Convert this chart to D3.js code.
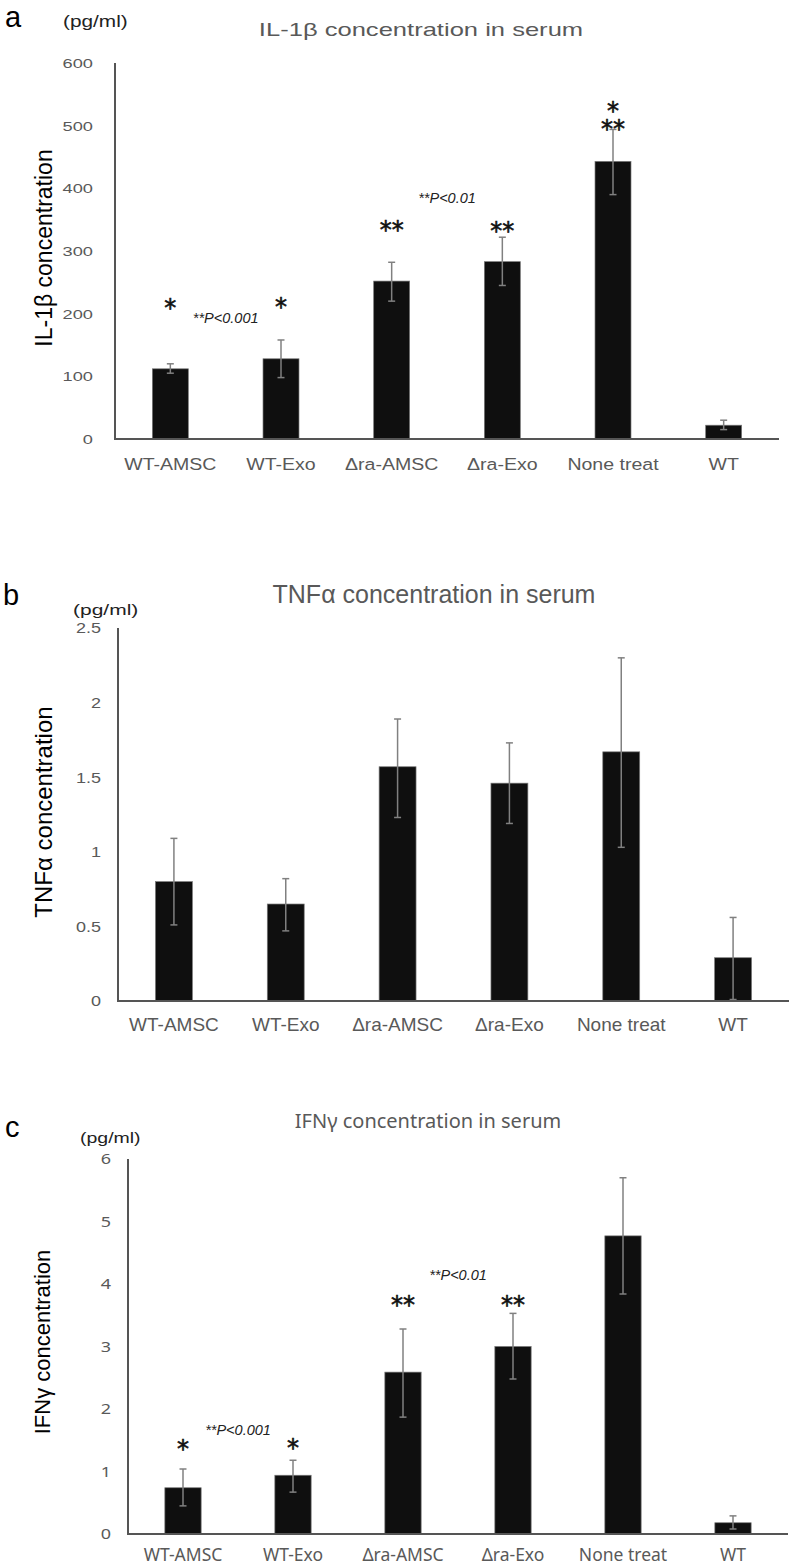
<!DOCTYPE html>
<html><head><meta charset="utf-8">
<script src="https://cdn.jsdelivr.net/npm/d3@7"></script>
<style>body{margin:0;background:#fff}svg{display:block}</style>
</head><body>
<svg id="chart" width="792" height="1565"></svg>
<script>
const categories = ["WT-AMSC","WT-Exo","\u0394ra-AMSC","\u0394ra-Exo","None treat","WT"];

const il1bMean = [112,128,252,283,443,22];
const il1bLow  = [105,98,220,245,390,15];
const il1bHigh = [120,158,282,322,494,30];
const il1bTicks = [0,100,200,300,400,500,600];
// [bar index, lines of stars (top to bottom), level of the lowest line in data units]
const il1bStars = [[0,["*"],217],[1,["*"],218],[2,["**"],342],[3,["**"],340],[4,["*","**"],503]];
const il1bP = [[0,1,"**P<0.001",185],[2,3,"**P<0.01",377]];

const tnfMean = [0.80,0.65,1.57,1.46,1.67,0.29];
const tnfLow  = [0.51,0.47,1.23,1.19,1.03,0.01];
const tnfHigh = [1.09,0.82,1.89,1.73,2.30,0.56];
const tnfTicks = [0,0.5,1,1.5,2,2.5];

const ifnMean = [0.74,0.94,2.59,3.00,4.77,0.18];
const ifnLow  = [0.45,0.67,1.87,2.48,3.84,0.08];
const ifnHigh = [1.04,1.18,3.28,3.53,5.70,0.29];
const ifnTicks = [0,1,2,3,4,5,6];
const ifnStars = [[0,["*"],1.44],[1,["*"],1.46],[2,["**"],3.74],[3,["**"],3.74]];
const ifnP = [[0,1,"**P<0.001",1.58],[2,3,"**P<0.01",4.06]];

const svg = d3.select("#chart");
const GRAY = "#595959";

function txt(g, s, x, y, o) {
  o = o || {};
  const t = g.append("text")
    .attr("transform", `translate(${x},${y})` + (o.rot ? ` rotate(${o.rot})` : "") + (o.sx ? ` scale(${o.sx},1)` : ""))
    .attr("font-family", o.family || "'Liberation Sans', Arial, sans-serif")
    .attr("font-size", o.size || 14)
    .attr("fill", o.fill || "#000")
    .attr("text-anchor", o.anchor || "start")
    .text(s);
  if (o.weight) t.attr("font-weight", o.weight);
  if (o.style) t.attr("font-style", o.style);
  return t;
}

function panel(cfg) {
  const g = svg.append("g");
  const x = d3.scaleBand().domain(categories).range([cfg.x0, cfg.x1]).paddingInner(cfg.pad).paddingOuter(cfg.pad/2);
  const y = d3.scaleLinear().domain([0, cfg.max]).range([cfg.y0, cfg.yTop]);
  const fam = cfg.family;

  // bars
  g.selectAll("rect.bar").data(cfg.mean).join("rect")
    .attr("x", (d,i) => x(categories[i]))
    .attr("width", x.bandwidth())
    .attr("y", d => y(d))
    .attr("height", d => y(0) - y(d))
    .attr("fill", "#0f0f0f")
    .attr("stroke", "#777").attr("stroke-width", 0.7);

  // error bars
  const cx = i => x(categories[i]) + x.bandwidth()/2;
  const eg = g.append("g").attr("stroke", "#808080").attr("stroke-width", 1.5);
  cfg.mean.forEach((d,i) => {
    eg.append("line").attr("x1", cx(i)).attr("x2", cx(i)).attr("y1", y(cfg.low[i])).attr("y2", y(cfg.high[i]));
    [cfg.low[i], cfg.high[i]].forEach(v => eg.append("line").attr("x1", cx(i)-3.5).attr("x2", cx(i)+3.5).attr("y1", y(v)).attr("y2", y(v)));
  });

  // axes lines
  g.append("line").attr("x1", cfg.x0).attr("x2", cfg.x0).attr("y1", y(cfg.max)).attr("y2", y(0)+1)
    .attr("stroke", "#555").attr("stroke-width", 2);
  g.append("line").attr("x1", cfg.x0).attr("x2", cfg.x1).attr("y1", y(0)).attr("y2", y(0))
    .attr("stroke", "#555").attr("stroke-width", 2);

  // y tick labels
  cfg.ticks.forEach(t => txt(g, String(t), cfg.x0 - cfg.tickGap, y(t) + cfg.tickSize*0.36,
    {size: cfg.tickSize, sx: cfg.tickSx, anchor: "end", fill: GRAY, family: fam}));

  // x labels
  categories.forEach((c,i) => txt(g, c, cx(i), cfg.xLabY, {size: cfg.xLabSize, sx: cfg.xLabSx, anchor: "middle", fill: GRAY, family: fam}));

  // title, unit, letter, y label
  txt(g, cfg.title, cfg.titleX, cfg.titleY, {size: cfg.titleSize, sx: cfg.titleSx, anchor: "middle", fill: GRAY, family: fam});
  txt(g, "(pg/ml)", cfg.unitX, cfg.unitY, {size: cfg.unitSize, sx: cfg.unitSx, fill: "#222", family: "'Liberation Sans', Arial, sans-serif"});
  txt(g, cfg.letter, cfg.letterX, cfg.letterY, {size: 29, fill: "#000"});
  txt(g, cfg.ylab, cfg.ylabX, cfg.ylabY, {size: cfg.ylabSize, rot: -90, anchor: "middle", fill: "#000"});

  // stars (multi-line stacks are one text element)
  (cfg.stars || []).forEach(s => {
    const lines = s[1];
    const lineH = 18;
    const baseTop = y(s[2]) + 13 - (lines.length - 1) * lineH;
    const t = g.append("text")
      .attr("font-family", "'DejaVu Sans', sans-serif")
      .attr("font-size", 24).attr("fill", "#111")
      .attr("stroke", "#111").attr("stroke-width", 0.6)
      .attr("text-anchor", "middle");
    lines.forEach((l, k) => t.append("tspan").attr("x", cx(s[0])).attr("y", baseTop + k*lineH).text(l));
  });
  (cfg.pvals || []).forEach(p => {
    const mx = (cx(p[0]) + cx(p[1]))/2;
    txt(g, p[2], mx, y(p[3]), {size: 14.5, anchor: "middle", style: "italic", fill: "#222"});
  });
}

panel({x0:115, x1:779, y0:439, yTop:63, max:600, pad:0.675, mean:il1bMean, low:il1bLow, high:il1bHigh, ticks:il1bTicks,
  family:"'Liberation Sans', Arial, sans-serif", tickGap:22, tickSize:13.5, tickSx:1.35, xLabY:470, xLabSize:17, xLabSx:1.15,
  title:"IL-1\u03b2 concentration in serum", titleX:421, titleY:36, titleSize:18, titleSx:1.42,
  unitX:63, unitY:27, unitSize:16, unitSx:1.3, letter:"a", letterX:5, letterY:27,
  ylab:"IL-1\u03b2 concentration", ylabX:52, ylabY:248, ylabSize:23, stars:il1bStars, pvals:il1bP});

panel({x0:118, x1:789, y0:1001, yTop:628, max:2.5, pad:0.67, mean:tnfMean, low:tnfLow, high:tnfHigh, ticks:tnfTicks,
  family:"'Liberation Sans', Arial, sans-serif", tickGap:17, tickSize:15, tickSx:1.2, xLabY:1031, xLabSize:19, xLabSx:1,
  title:"TNF\u03b1 concentration in serum", titleX:434, titleY:603, titleSize:25, titleSx:1,
  unitX:73, unitY:615, unitSize:15, unitSx:1.4, letter:"b", letterX:3, letterY:605,
  ylab:"TNF\u03b1 concentration", ylabX:52, ylabY:812, ylabSize:24});

panel({x0:128, x1:788, y0:1534, yTop:1159, max:6, pad:0.67, mean:ifnMean, low:ifnLow, high:ifnHigh, ticks:ifnTicks,
  family:"'Noto Sans', sans-serif", tickGap:17, tickSize:15, tickSx:1.2, xLabY:1561, xLabSize:17.5, xLabSx:1,
  title:"IFN\u03b3 concentration in serum", titleX:428, titleY:1128, titleSize:20, titleSx:1,
  unitX:80, unitY:1143, unitSize:15, unitSx:1.3, letter:"c", letterX:5, letterY:1137,
  ylab:"IFN\u03b3 concentration", ylabX:50, ylabY:1342, ylabSize:22, stars:ifnStars, pvals:ifnP});
</script>
</body></html>
